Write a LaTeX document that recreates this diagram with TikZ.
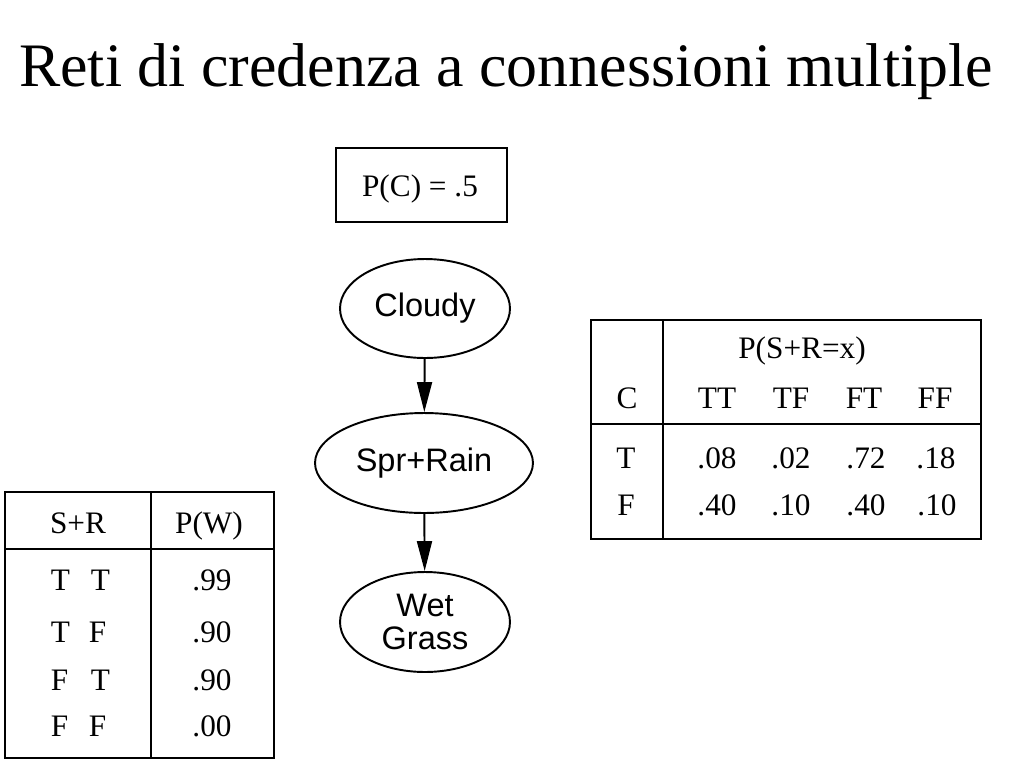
\documentclass[tikz,border=0pt]{standalone}
\usepackage{fontspec}
\setmainfont{Liberation Serif}
\setsansfont{Liberation Sans}
\usetikzlibrary{positioning, arrows.meta, shapes.geometric}
\tikzset{
    x=0.02cm, y=-0.02cm, % one unit is one pixel of the slide, y going down
    every node/.style={inner sep=0pt}, % text nodes sit exactly where placed
    >={Triangle[length=0.6cm, width=0.3cm]}, % filled arrow heads
    }

\begin{document}
\begin{tikzpicture}[line width=1.1pt, var/.style={ellipse, draw, font=\sffamily\fontsize{18.5}{18.7}\selectfont, align=center}, cell/.style={anchor=base, font=\fontsize{17.8}{20}\selectfont}]
\useasboundingbox (0,0) rectangle (1024,768);
\node[anchor=base, font=\fontsize{35.2}{40}\selectfont] (title) at (506,86) {Reti di credenza a connessioni multiple};

% the network
\node[draw, minimum width=3.42cm, minimum height=1.48cm] (priorC) at (421.5,185) {};
\node[cell] (pc) at (420,196) {P(C) = .5};
\node[var, minimum width=3.4cm, minimum height=1.98cm] (C) at (425,308.5) {Cloudy};
\node[var, minimum width=4.36cm, minimum height=2cm] (SR) at (424,463) {Spr+Rain};
\node[var, minimum width=3.4cm, minimum height=2cm] (W) at (425,622) {Wet\\Grass};

\draw[->] (C) edge (SR)
(SR) edge (W);

% table of P(S+R=x)
\draw (591,320) rectangle (981,539);
\draw (663,320) -- (663,539);
\draw (591,424) -- (981,424);
\node[cell] (hdr) at (802,358) {P(S+R=x)};
\node[cell] (hC) at (627,408) {C};
\node[cell] (hTT) at (717,408) {TT};
\node[cell] (hTF) at (791,408) {TF};
\node[cell] (hFT) at (864,408) {FT};
\node[cell] (hFF) at (935,408) {FF};
\node[cell] (rT) at (626,468) {T};
\node[cell] (t1) at (717,468) {.08};
\node[cell] (t2) at (791,468) {.02};
\node[cell] (t3) at (866,468) {.72};
\node[cell] (t4) at (936,468) {.18};
\node[cell] (rF) at (626,515) {F};
\node[cell] (f1) at (717,515) {.40};
\node[cell] (f2) at (791,515) {.10};
\node[cell] (f3) at (866,515) {.40};
\node[cell] (f4) at (937,515) {.10};

% table of P(W)
\draw (5,492) rectangle (274,758);
\draw (151,492) -- (151,758);
\draw (5,549) -- (274,549);
\node[cell] (hSR) at (78,533) {S+R};
\node[cell] (hW) at (209,533) {P(W)};
\node[cell, anchor=base west] (a1) at (50,590) {T};
\node[cell, anchor=base west] (b1) at (90,590) {T};
\node[cell] (w1) at (212,590) {.99};
\node[cell, anchor=base west] (a2) at (50,642) {T};
\node[cell, anchor=base west] (b2) at (88,642) {F};
\node[cell] (w2) at (212,642) {.90};
\node[cell, anchor=base west] (a3) at (50,690) {F};
\node[cell, anchor=base west] (b3) at (90,690) {T};
\node[cell] (w3) at (212,690) {.90};
\node[cell, anchor=base west] (a4) at (50,736) {F};
\node[cell, anchor=base west] (b4) at (88,736) {F};
\node[cell] (w4) at (212,736) {.00};
\end{tikzpicture}
\end{document}
